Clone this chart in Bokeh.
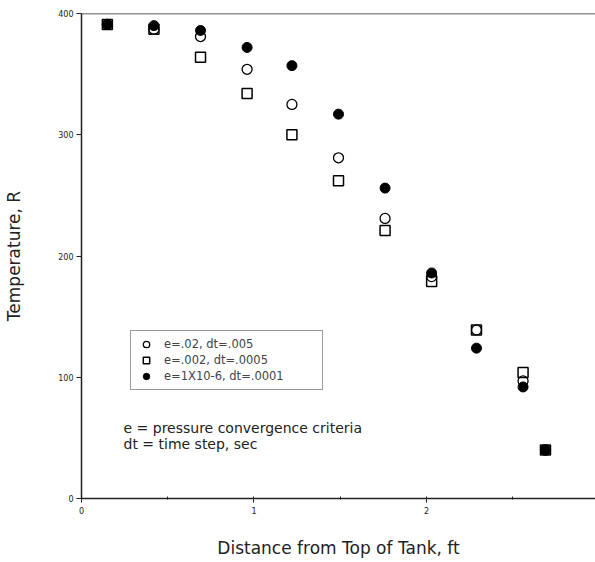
from bokeh.plotting import figure
from bokeh.models import Range1d, Span, Legend, LegendItem, FixedTicker, Label
from bokeh.embed import file_html
from bokeh.resources import INLINE

# Data
distance = [0.15, 0.42, 0.69, 0.96, 1.22, 1.49, 1.76, 2.03, 2.29, 2.56, 2.69]
temp_e02 = [391, 387, 381, 354, 325, 281, 231, 183, 139, 97, 40]
temp_e002 = [391, 387, 364, 334, 300, 262, 221, 179, 139, 104, 40]
temp_e1e6 = [391, 390, 386, 372, 357, 317, 256, 186, 124, 92, 40]
series_labels = ["e=.02, dt=.005", "e=.002, dt=.0005", "e=1X10-6, dt=.0001"]
x_ticks = [0, 1, 2]
y_ticks = [0, 100, 200, 300, 400]

FONT = "DejaVu Sans"

p = figure(width=595, height=562, output_backend="svg", toolbar_location=None,
           x_range=Range1d(0, 2.98), y_range=Range1d(0, 400),
           min_border_left=81, min_border_right=0, min_border_top=13, min_border_bottom=64)
p.outline_line_color = None
p.grid.visible = False
p.background_fill_color = "white"
p.border_fill_color = "white"

p.add_layout(Span(location=400, dimension="width", line_color="#222222", line_width=1.5))

r3 = p.scatter(distance, temp_e1e6, marker="circle", size=10, fill_color="black", line_color="black")
r2 = p.scatter(distance, temp_e002, marker="square", size=10, fill_color=None, line_color="black", line_width=1.5)
r1 = p.scatter(distance, temp_e02, marker="circle", size=10, fill_color=None, line_color="black", line_width=1.3)

legend = Legend(items=[LegendItem(label=series_labels[0], renderers=[r1]),
                       LegendItem(label=series_labels[1], renderers=[r2]),
                       LegendItem(label=series_labels[2], renderers=[r3])],
                location=(49, 108), border_line_color="#333333", border_line_width=1,
                label_text_font=FONT, label_text_font_size="11.5px",
                glyph_width=20, glyph_height=16, label_height=14, label_width=153,
                spacing=0, padding=5, margin=0, label_standoff=8, background_fill_alpha=1)
p.add_layout(legend, "center")

p.add_layout(Label(x=123 - 81, y=498 - 427, x_units="screen", y_units="screen",
                   text="e = pressure convergence criteria", text_font=FONT,
                   text_font_size="14px", text_baseline="middle", text_color="#222222"))
p.add_layout(Label(x=123 - 81, y=498 - 443, x_units="screen", y_units="screen",
                   text="dt = time step, sec", text_font=FONT,
                   text_font_size="14px", text_baseline="middle", text_color="#222222"))

p.xaxis.ticker = FixedTicker(ticks=x_ticks, minor_ticks=[0.5, 1.5, 2.5])
p.yaxis.ticker = FixedTicker(ticks=y_ticks)
for ax in (p.xaxis, p.yaxis):
    ax.axis_line_color = "#222222"
    ax.axis_line_width = 1.5
    ax.major_tick_line_color = "#222222"
    ax.minor_tick_line_color = "#222222"
    ax.major_label_text_font = FONT
    ax.major_label_text_font_size = "8px"
    ax.major_label_text_color = "#222222"
    ax.axis_label_text_font = FONT
    ax.axis_label_text_font_style = "normal"
    ax.axis_label_text_color = "#222222"
p.xaxis.major_tick_out = 4
p.xaxis.major_tick_in = 2
p.xaxis.minor_tick_out = 1
p.xaxis.minor_tick_in = 2
p.yaxis.major_tick_out = 5
p.yaxis.major_tick_in = 0
p.yaxis.minor_tick_line_color = None
p.xaxis.major_label_standoff = 4
p.yaxis.major_label_standoff = 3

p.xaxis.axis_label = "Distance from Top of Tank, ft"
p.yaxis.axis_label = "Temperature, R"
p.xaxis.axis_label_text_font_size = "17px"
p.yaxis.axis_label_text_font_size = "17px"
p.xaxis.axis_label_standoff = 21
p.yaxis.axis_label_standoff = 31

open("out.html", "w").write(file_html(p, INLINE))
